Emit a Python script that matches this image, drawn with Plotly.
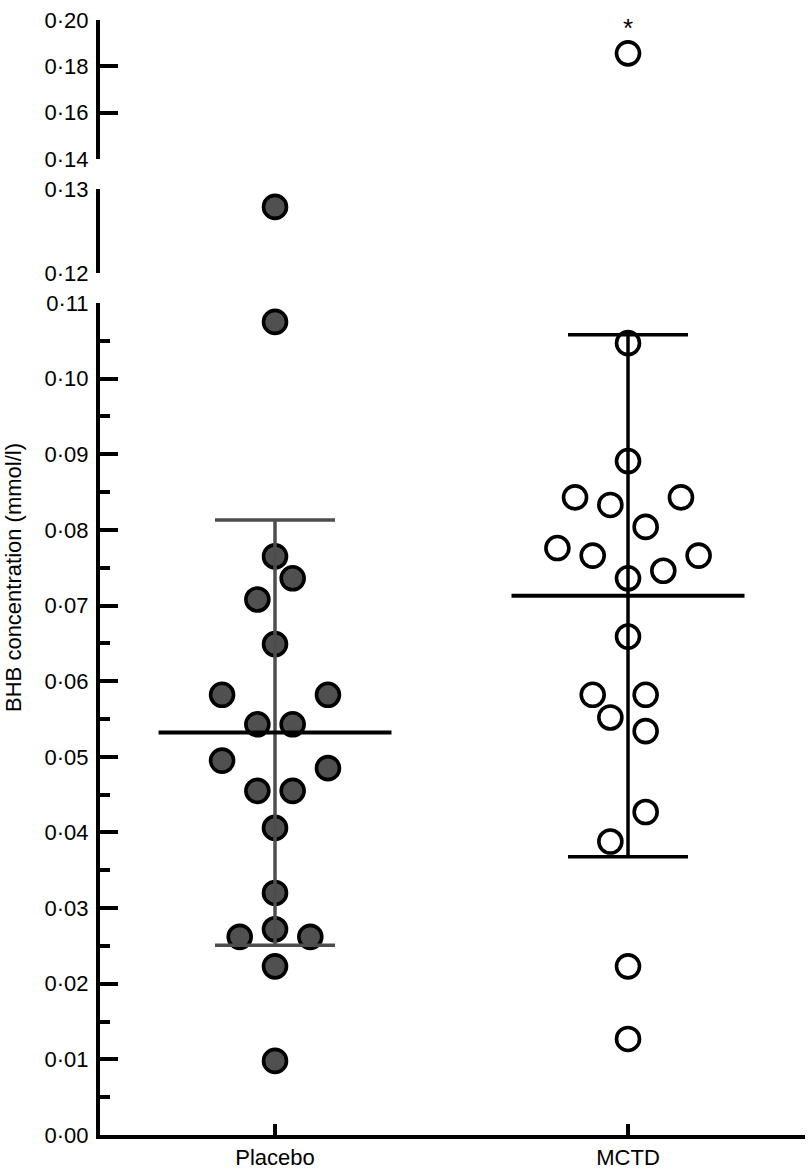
import plotly.graph_objects as go

# ---------------- data ----------------
groups = ["Placebo", "MCTD"]

placebo_values = [0.1279, 0.1075, 0.0765, 0.0736, 0.0708, 0.0649, 0.0582, 0.0582,
                  0.0543, 0.0543, 0.0495, 0.0485, 0.0455, 0.0455, 0.0406, 0.0320,
                  0.0272, 0.0262, 0.0262, 0.0223, 0.0098]
placebo_jitter = [0, 0, 0, 1, -1, 0, -3, 3, -1, 1, -3, 3, -1, 1, 0, 0, 0, -2, 2, 0, 0]

mctd_values = [0.1856, 0.1047, 0.0891, 0.0843, 0.0843, 0.0833, 0.0804, 0.0776,
               0.0766, 0.0766, 0.0746, 0.0736, 0.0659, 0.0582, 0.0582, 0.0552,
               0.0534, 0.0427, 0.0388, 0.0223, 0.0127]
mctd_jitter = [0, 0, 0, -3, 3, -1, 1, -4, -2, 4, 2, 0, 0, -2, 1, -1, 1, 1, -1, 0, 0]

group_means = [0.0532, 0.0713]
group_sds = [0.0281, 0.0345]

bottom_ticks = [0.00, 0.01, 0.02, 0.03, 0.04, 0.05, 0.06, 0.07, 0.08, 0.09, 0.10, 0.11]
middle_ticks = [0.12, 0.13]
top_ticks = [0.14, 0.16, 0.18, 0.20]

# ---------------- layout constants ----------------
STEP = 0.05          # horizontal jitter step (x units)
FONT = "Liberation Sans, Arial, Helvetica, sans-serif"
FS = 22
segments = [("y", 0.0, 0.11), ("y2", 0.12, 0.13), ("y3", 0.14, 0.20)]

fig = go.Figure()

def seg_of(v):
    for name, lo, hi in segments:
        if lo - 1e-9 <= v <= hi + 1e-9:
            return name
    return "y"

styles = [
    dict(color="#505050", line=dict(color="black", width=3.6)),
    dict(color="white", line=dict(color="black", width=3.6)),
]

for gi, (vals, jit) in enumerate([(placebo_values, placebo_jitter), (mctd_values, mctd_jitter)]):
    for name, lo, hi in segments:
        xs = [gi + j * STEP for v, j in zip(vals, jit) if seg_of(v) == name]
        ys = [v for v in vals if seg_of(v) == name]
        if not ys:
            continue
        fig.add_trace(go.Scatter(
            x=xs, y=ys, mode="markers", yaxis=name, xaxis="x",
            marker=dict(symbol="circle", size=23, **styles[gi]),
            showlegend=False, hoverinfo="skip", cliponaxis=False))

# mean and SD lines
err_colors = ["#4d4d4d", "black"]
for gi in range(2):
    m, s = group_means[gi], group_sds[gi]
    c = err_colors[gi]
    fig.add_trace(go.Scatter(x=[gi, gi], y=[m - s, m + s], mode="lines", yaxis="y",
                             line=dict(color=c, width=3.5), showlegend=False, hoverinfo="skip"))
    for yy in (m - s, m + s):
        fig.add_trace(go.Scatter(x=[gi - 0.17, gi + 0.17], y=[yy, yy], mode="lines", yaxis="y",
                                 line=dict(color=c, width=3.5), showlegend=False, hoverinfo="skip"))
    fig.add_trace(go.Scatter(x=[gi - 0.33, gi + 0.33], y=[m, m], mode="lines", yaxis="y",
                             line=dict(color="black", width=4), showlegend=False, hoverinfo="skip"))

def fmt(v):
    return f"{v:.2f}".replace(".", "·")

common_y = dict(
    showline=True, linecolor="black", linewidth=4, ticks="inside", ticklen=18,
    tickwidth=4, tickcolor="black", showgrid=False, zeroline=False, anchor="x",
    tickfont=dict(family=FONT, size=FS, color="black"), fixedrange=True,
    ticklabelstandoff=3,
)

fig.update_layout(
    width=808, height=1172,
    margin=dict(l=100, r=3, t=20, b=37),
    paper_bgcolor="white", plot_bgcolor="white",
    font=dict(family=FONT, size=FS, color="black"),
    xaxis=dict(range=[-0.4958, 1.5014], tickvals=[0, 1], ticktext=groups,
               showline=True, linecolor="black", linewidth=4, ticks="inside",
               ticklen=11, tickwidth=4, tickcolor="black", showgrid=False,
               zeroline=False, tickfont=dict(family=FONT, size=FS, color="black"),
               anchor="y", fixedrange=True),
    yaxis=dict(domain=[0, 0.7462], range=[0, 0.11], tickvals=bottom_ticks,
               ticktext=[fmt(v) for v in bottom_ticks],
               minor=dict(ticks="inside", ticklen=10, tickwidth=4, tickcolor="black",
                          tickvals=[0.005 + 0.01 * i for i in range(11)]),
               **common_y),
    yaxis2=dict(domain=[0.7728, 0.8482], range=[0.12, 0.13], tickvals=middle_ticks,
                ticktext=[fmt(v) for v in middle_ticks], **common_y),
    yaxis3=dict(domain=[0.8753, 1.0], range=[0.14, 0.20], tickvals=top_ticks,
                ticktext=[fmt(v) for v in top_ticks], **common_y),
    annotations=[
        dict(text="BHB concentration (mmol/l)", xref="paper", yref="paper",
             x=0, xshift=-86, xanchor="center", y=0.4996, yanchor="middle",
             textangle=-90, showarrow=False,
             font=dict(family=FONT, size=FS, color="black")),
        dict(text="*", xref="x", yref="y3", x=1, y=mctd_values[0], yshift=25,
             showarrow=False, font=dict(family=FONT, size=26, color="black")),
    ],
)

fig.write_html("out.html",
               config={"displayModeBar": False, "staticPlot": True},
               post_script="document.body.style.margin='0';document.body.style.padding='0';")
